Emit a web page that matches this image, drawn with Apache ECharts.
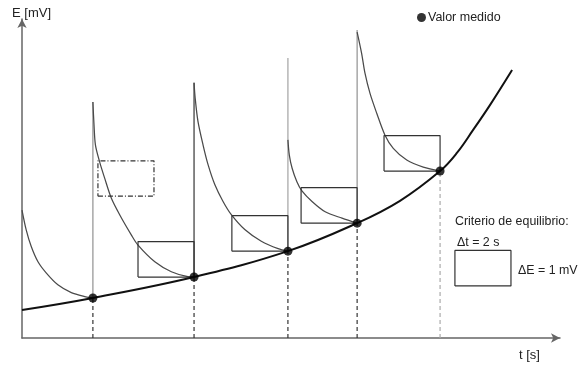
<!DOCTYPE html>
<html>
<head>
<meta charset="utf-8">
<script src="https://cdn.jsdelivr.net/npm/echarts@6/dist/echarts.min.js"></script>
<style>
  html, body { margin: 0; padding: 0; background: #fff; }
  #chart { width: 579px; height: 366px; }
</style>
</head>
<body>
<div id="chart"></div>
<script>
// Measured points (t in s, E in mV)
const dotT = [2.53, 6.14, 9.49, 11.96, 14.92];
const dotE = [1.13, 1.72, 2.45, 3.24, 4.71];

// Top of each potential jump after adding titrant
const spikeTop = [6.66, 7.20, 7.90, 8.69];

// Equilibrium curve E(t)
const eqT = [0, 2.53, 6.14, 9.49, 11.96, 13.49, 14.92, 15.52, 16.10, 16.70, 17.49];
const eqE = [0.79, 1.13, 1.72, 2.45, 3.24, 3.87, 4.71, 5.22, 5.87, 6.57, 7.56];

// Relaxation curves after each addition
const relax0T = [0, 0.15, 0.33, 0.57, 0.87, 1.28, 1.76, 2.24, 2.53];
const relax0E = [3.61, 3.05, 2.58, 2.15, 1.83, 1.50, 1.28, 1.17, 1.13];
const relax1T = [2.53, 2.57, 2.62, 2.77, 2.95, 3.19, 3.49, 3.90, 4.14, 4.74, 5.33, 5.92, 6.14];
const relax1E = [6.66, 6.01, 5.45, 4.97, 4.51, 3.94, 3.47, 2.91, 2.62, 2.15, 1.87, 1.73, 1.72];
const relax2T = [6.14, 6.18, 6.28, 6.46, 6.64, 6.88, 7.17, 7.47, 7.95, 8.54, 9.14, 9.49];
const relax2E = [7.20, 6.77, 6.11, 5.45, 4.89, 4.33, 3.86, 3.48, 3.06, 2.73, 2.52, 2.45];
const relax3T = [9.49, 9.54, 9.64, 9.81, 9.99, 10.35, 10.82, 11.42, 11.96];
const relax3E = [5.59, 5.16, 4.79, 4.41, 4.15, 3.85, 3.56, 3.38, 3.24];
const relax4T = [11.96, 12.12, 12.24, 12.42, 12.66, 12.95, 13.25, 13.73, 14.32, 14.92];
const relax4E = [8.63, 8.03, 7.47, 6.90, 6.34, 5.73, 5.35, 5.02, 4.82, 4.71];

// Equilibrium criterion window
const windowDt = 2;   // s
const windowDE = 1;   // mV
// Lower-right corners of the windows: unsettled example and legend key
const openWindow = [4.71, 4.0];
const keyWindow = [17.45, 1.47];

const tMax = 19.2;
const eMax = 9;

const zip = (a, b) => a.map((v, i) => [v, b[i]]);
const box = (t1, e0) => [[t1 - windowDt, e0], [t1, e0], [t1, e0 + windowDE], [t1 - windowDt, e0 + windowDE], [t1 - windowDt, e0]];

const FONT = 'Liberation Sans';

function lineSeries(data, style, extra) {
  return Object.assign({
    type: 'line',
    data: data,
    showSymbol: false,
    symbol: 'none',
    silent: true,
    animation: false,
    lineStyle: style
  }, extra || {});
}

const series = [];

// drop lines from each measured point down to the time axis
dotT.forEach((t, i) => {
  series.push(lineSeries([[t, 0], [t, dotE[i]]],
    { color: i === 4 ? '#aaa' : '#333', width: 1.2, type: [4, 3] }));
});

// vertical jumps
const spikeColors = ['#999', '#444', '#aaa', '#999'];
spikeTop.forEach((top, i) => {
  series.push(lineSeries([[dotT[i], dotE[i]], [dotT[i], top]],
    { color: spikeColors[i], width: 1.3 }));
});

// relaxation curves
[[relax0T, relax0E], [relax1T, relax1E], [relax2T, relax2E], [relax3T, relax3E], [relax4T, relax4E]]
  .forEach(([t, e]) => {
    series.push(lineSeries(zip(t, e), { color: '#4a4a4a', width: 1.25 }, { smooth: 0.3 }));
  });

// criterion windows at the settled points
for (let i = 1; i < dotT.length; i++) {
  series.push(lineSeries(box(dotT[i], dotE[i]), { color: '#333', width: 1.2 }));
}
// window not yet satisfied
series.push(lineSeries(box(openWindow[0], openWindow[1]),
  { color: '#333', width: 1.2, type: [5, 2, 1, 2] }));
// legend key window
series.push(lineSeries(box(keyWindow[0], keyWindow[1]), { color: '#333', width: 1.2 }));

// equilibrium curve
series.push(lineSeries(zip(eqT, eqE), { color: '#111', width: 2 }, { smooth: 0.4, z: 5 }));

// measured values
series.push({
  name: 'Valor medido',
  type: 'scatter',
  data: zip(dotT, dotE),
  symbol: 'circle',
  symbolSize: 9,
  itemStyle: { color: '#000' },
  z: 10,
  animation: false
});

const chart = echarts.init(document.getElementById('chart'), null, { renderer: 'canvas' });
chart.setOption({
  backgroundColor: '#fff',
  animation: false,
  grid: { left: 22, right: 19, top: 19, bottom: 28 },
  legend: {
    data: ['Valor medido'],
    left: 417,
    top: 11,
    padding: 0,
    icon: 'circle',
    itemWidth: 9,
    itemHeight: 9,
    textStyle: { fontFamily: FONT, fontSize: 12.5, color: '#222', padding: [0, 0, 0, -3] },
    selectedMode: false
  },
  xAxis: {
    type: 'value', min: 0, max: tMax,
    axisLine: { lineStyle: { color: '#666', width: 1.5 }, symbol: ['none', 'arrow'], symbolSize: [7, 9] },
    axisTick: { show: false }, axisLabel: { show: false }, splitLine: { show: false }
  },
  yAxis: {
    type: 'value', min: 0, max: eMax,
    axisLine: { show: true, lineStyle: { color: '#666', width: 1.5 }, symbol: ['none', 'arrow'], symbolSize: [7, 9] },
    axisTick: { show: false }, axisLabel: { show: false }, splitLine: { show: false }
  },
  graphic: [
    { type: 'text', left: 12, top: 7, style: { text: 'E [mV]', font: '13px "Liberation Sans"', fill: '#222' } },
    { type: 'text', left: 519, top: 349, style: { text: 't [s]', font: '13px "Liberation Sans"', fill: '#222' } },
    { type: 'text', left: 455, top: 216, style: { text: 'Criterio de equilibrio:', font: '12.4px "Liberation Sans"', fill: '#222' } },
    { type: 'text', left: 457, top: 237, style: { text: 'Δt = 2 s', font: '12.4px "Liberation Sans"', fill: '#222' } },
    { type: 'text', left: 518, top: 265, style: { text: 'ΔE = 1 mV', font: '12.4px "Liberation Sans"', fill: '#222' } }
  ],
  series: series
});
</script>
</body>
</html>
